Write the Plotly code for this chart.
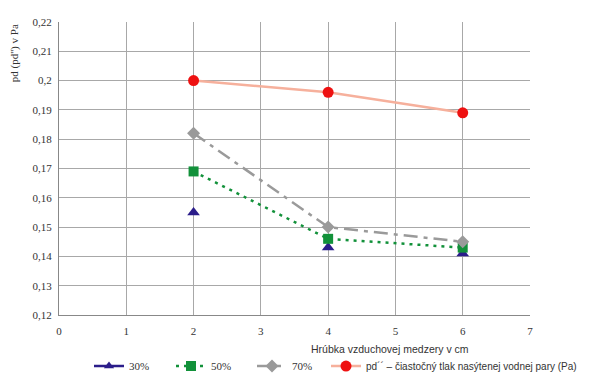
import plotly.graph_objects as go

x_vals = [2, 4, 6]
s30 = [0.155, 0.143, 0.141]
s50 = [0.169, 0.146, 0.143]
s70 = [0.182, 0.150, 0.145]
s_pd = [0.200, 0.196, 0.189]
names = ["30%", "50%", "70%", "pd´´ – čiastočný tlak nasýtenej vodnej pary (Pa)"]
x_ticks = [0, 1, 2, 3, 4, 5, 6, 7]
y_ticks = [0.12, 0.13, 0.14, 0.15, 0.16, 0.17, 0.18, 0.19, 0.20, 0.21, 0.22]
y_tick_text = ["0,12", "0,13", "0,14", "0,15", "0,16", "0,17", "0,18", "0,19", "0,2", "0,21", "0,22"]

navy = "#2b1d8a"
green = "#12913a"
grey = "#9a9a9a"
red = "#ee1111"
salmon = "#f6b09c"

fig = go.Figure()
fig.add_trace(go.Scatter(x=x_vals, y=s30, mode="markers", showlegend=False,
                         marker=dict(symbol="triangle-up", size=11, color=navy)))
fig.add_trace(go.Scatter(x=[None], y=[None], mode="lines+markers", name=names[0],
                         legend="legend",
                         line=dict(color=navy, width=2.5),
                         marker=dict(symbol="triangle-up", size=9, color=navy)))
fig.add_trace(go.Scatter(x=x_vals, y=s50, mode="lines+markers", name=names[1],
                         legend="legend2",
                         line=dict(color=green, width=2.5, dash="3px,5px"),
                         marker=dict(symbol="square", size=10, color=green)))
fig.add_trace(go.Scatter(x=x_vals, y=s70, mode="lines+markers", name=names[2],
                         legend="legend3",
                         line=dict(color=grey, width=2.5, dash="14px,6px,4px,6px"),
                         marker=dict(symbol="diamond", size=10, color=grey)))
fig.add_trace(go.Scatter(x=x_vals, y=s_pd, mode="lines+markers", name=names[3],
                         legend="legend4",
                         line=dict(color=salmon, width=2.5),
                         marker=dict(symbol="circle", size=11, color=red)))

def leg(xpx, fam, size):
    return dict(orientation="h", xref="container", yref="container",
                x=xpx / 600, xanchor="left", y=0.034, yanchor="middle",
                font=dict(family=fam, size=size, color="#333"),
                itemwidth=30, bgcolor="rgba(0,0,0,0)")

fig.update_layout(
    width=600, height=379,
    margin=dict(l=59, r=70, t=22, b=64, autoexpand=False),
    paper_bgcolor="white", plot_bgcolor="white",
    font=dict(family="Liberation Serif", size=11, color="#333"),
    xaxis=dict(range=[0, 7], tickvals=x_ticks, showgrid=True, gridcolor="#a8a8a8",
               gridwidth=1, showline=True, linecolor="#888", linewidth=1,
               zeroline=False, ticks="", ticklabelstandoff=6,
               tickfont=dict(family="Liberation Serif", size=11, color="#333")),
    yaxis=dict(range=[0.12, 0.22], tickvals=y_ticks, ticktext=y_tick_text, showgrid=True,
               gridcolor="#a8a8a8", gridwidth=1, showline=True, linecolor="#888", linewidth=1,
               zeroline=False, ticks="", ticklabelstandoff=4,
               tickfont=dict(family="Liberation Serif", size=11, color="#333")),
    legend=leg(89, "Liberation Serif", 11), legend2=leg(171, "Liberation Serif", 11),
    legend3=leg(252, "Liberation Serif", 11), legend4=leg(326, "Liberation Sans", 10),
    annotations=[
        dict(text="Hrúbka vzduchovej medzery v cm", xref="paper", yref="paper",
             x=(390 - 59) / 471, y=-0.088, xanchor="center", yanchor="top", showarrow=False,
             font=dict(family="Liberation Sans", size=10.5, color="#333")),
        dict(text="pd (pd'') v Pa", xref="paper", yref="paper", x=-0.095, y=1.0,
             xanchor="center", yanchor="top", textangle=-90, showarrow=False,
             font=dict(family="Liberation Serif", size=11, color="#333")),
    ],
)
fig.write_html("out.html", config={"displayModeBar": False},
               post_script="document.body.style.margin='0';")
